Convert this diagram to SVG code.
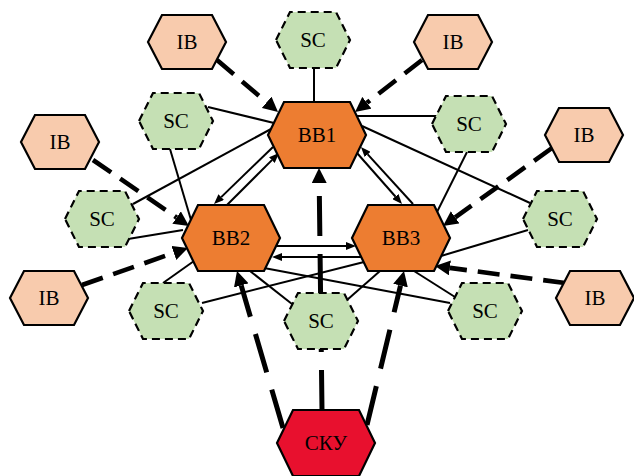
<svg xmlns="http://www.w3.org/2000/svg" xmlns:xlink="http://www.w3.org/1999/xlink" width="634" height="476" viewBox="0 0 634 476">
<style>
.ib{fill:#F8CBAD;stroke:#000;stroke-width:2.2}
.sc{fill:#C5E0B4;stroke:#000;stroke-width:2.2;stroke-dasharray:8 5}
.bb{fill:#ED7D31;stroke:#000;stroke-width:2.2}
.sku{fill:#E8102E;stroke:#000;stroke-width:2.2}
text{font-family:"Liberation Serif","Times New Roman",serif;font-size:21px;text-anchor:middle;fill:#000}
.thin{stroke:#000;stroke-width:2;fill:none}
.thinA{stroke:#000;stroke-width:2;fill:none;marker-end:url(#ah)}
.ibA{stroke:#000;stroke-width:4.6;fill:none;stroke-dasharray:22 11;marker-end:url(#AH)}
.skA{stroke:#000;stroke-width:5;fill:none;stroke-dasharray:40 18;marker-end:url(#AH)}
</style>
<defs>
<marker id="ah" markerUnits="userSpaceOnUse" markerWidth="10" markerHeight="8" refX="0" refY="4" orient="auto" viewBox="0 0 10 8"><path d="M0,0 L10,4 L0,8 z" fill="#000"/></marker>
<marker id="AH" markerUnits="userSpaceOnUse" markerWidth="15" markerHeight="15" refX="0" refY="7.5" orient="auto" viewBox="0 0 15 15"><path d="M0,0 L15,7.5 L0,15 z" fill="#000"/></marker>
<polygon id="hIB" points="-39,0 -25,-27 25,-27 39,0 25,27 -25,27"/>
<polygon id="hSC" points="-37,0 -23,-28 23,-28 37,0 23,28 -23,28"/>
<polygon id="hBB" points="-49,0 -33,-33 33,-33 49,0 33,33 -33,33"/>
</defs>
<g id="connectors">
<!-- SC to BB thin lines -->
<line class="thin" x1="314" y1="68" x2="314" y2="102"/>
<line class="thin" x1="208" y1="107" x2="274" y2="123"/>
<line class="thin" x1="170" y1="149" x2="191" y2="220"/>
<line class="thin" x1="133" y1="204" x2="271" y2="129"/>
<line class="thin" x1="128" y1="239" x2="183" y2="230"/>
<line class="thin" x1="163" y1="283" x2="194" y2="261"/>
<line class="thin" x1="202" y1="303" x2="364" y2="262"/>
<line class="thin" x1="292" y1="304" x2="250" y2="271"/>
<line class="thin" x1="347" y1="300" x2="380" y2="271"/>
<line class="thin" x1="455" y1="297" x2="414" y2="271"/>
<line class="thin" x1="450" y1="303" x2="264" y2="268"/>
<line class="thin" x1="528" y1="230" x2="441" y2="256"/>
<line class="thin" x1="530" y1="203" x2="362" y2="126"/>
<line class="thin" x1="356" y1="116" x2="437" y2="116"/>
<line class="thin" x1="467" y1="152" x2="437" y2="212"/>
<!-- BB to BB arrows -->
<line class="thinA" x1="276" y1="246" x2="346" y2="246"/>
<line class="thinA" x1="362" y1="257" x2="282" y2="257"/>
<line class="thinA" x1="273" y1="147" x2="221.2" y2="197.1"/>
<line class="thinA" x1="227" y1="205" x2="271.9" y2="160.1"/>
<line class="thinA" x1="357" y1="153" x2="395.4" y2="196.5"/>
<line class="thinA" x1="413" y1="204" x2="367.7" y2="154.4"/>
<!-- IB dashed arrows -->
<line class="ibA" x1="217" y1="60" x2="266.6" y2="102.3"/>
<line class="ibA" x1="422" y1="60" x2="366.9" y2="102.8"/>
<line class="ibA" x1="93" y1="160" x2="176.6" y2="217.5"/>
<line class="ibA" x1="82" y1="285" x2="173.8" y2="252.9"/>
<line class="ibA" x1="552" y1="148" x2="455.2" y2="217.3"/>
<line class="ibA" x1="565" y1="283" x2="449.9" y2="267.9"/>
<!-- SKY dashed arrows -->
<line class="skA" x1="322" y1="410" x2="319.2" y2="183"/>
<line class="skA" x1="283" y1="428" x2="241.2" y2="285.4"/>
<line class="skA" x1="367" y1="425" x2="400.5" y2="285.6"/>
</g>
<g id="ib1"><use xlink:href="#hIB" class="ib" x="187" y="42"/><text x="187" y="49">IB</text></g>
<g id="ib2"><use xlink:href="#hIB" class="ib" x="453" y="42"/><text x="453" y="49">IB</text></g>
<g id="ib3"><use xlink:href="#hIB" class="ib" x="60" y="142"/><text x="60" y="149">IB</text></g>
<g id="ib4"><use xlink:href="#hIB" class="ib" x="584" y="135"/><text x="584" y="142">IB</text></g>
<g id="ib5"><use xlink:href="#hIB" class="ib" x="49" y="298"/><text x="49" y="305">IB</text></g>
<g id="ib6"><use xlink:href="#hIB" class="ib" x="595" y="298"/><text x="595" y="305">IB</text></g>
<g id="sc1"><use xlink:href="#hSC" class="sc" x="313" y="40"/><text x="313" y="47">SC</text></g>
<g id="sc2"><use xlink:href="#hSC" class="sc" x="176" y="121"/><text x="176" y="128">SC</text></g>
<g id="sc3"><use xlink:href="#hSC" class="sc" x="102" y="219"/><text x="102" y="226">SC</text></g>
<g id="sc4"><use xlink:href="#hSC" class="sc" x="166" y="311"/><text x="166" y="318">SC</text></g>
<g id="sc5"><use xlink:href="#hSC" class="sc" x="321" y="321"/><text x="321" y="328">SC</text></g>
<g id="sc6"><use xlink:href="#hSC" class="sc" x="485" y="311"/><text x="485" y="318">SC</text></g>
<g id="sc7"><use xlink:href="#hSC" class="sc" x="560" y="219"/><text x="560" y="226">SC</text></g>
<g id="sc8"><use xlink:href="#hSC" class="sc" x="469" y="124"/><text x="469" y="131">SC</text></g>
<g id="bb1"><use xlink:href="#hBB" class="bb" x="317" y="135"/><text x="317" y="142">BB1</text></g>
<g id="bb2"><use xlink:href="#hBB" class="bb" x="231" y="238"/><text x="231" y="245">BB2</text></g>
<g id="bb3"><use xlink:href="#hBB" class="bb" x="401" y="238"/><text x="401" y="245">BB3</text></g>
<g id="sku"><use xlink:href="#hBB" class="sku" x="326" y="443"/><text x="326" y="450">СКУ</text></g>
</svg>
